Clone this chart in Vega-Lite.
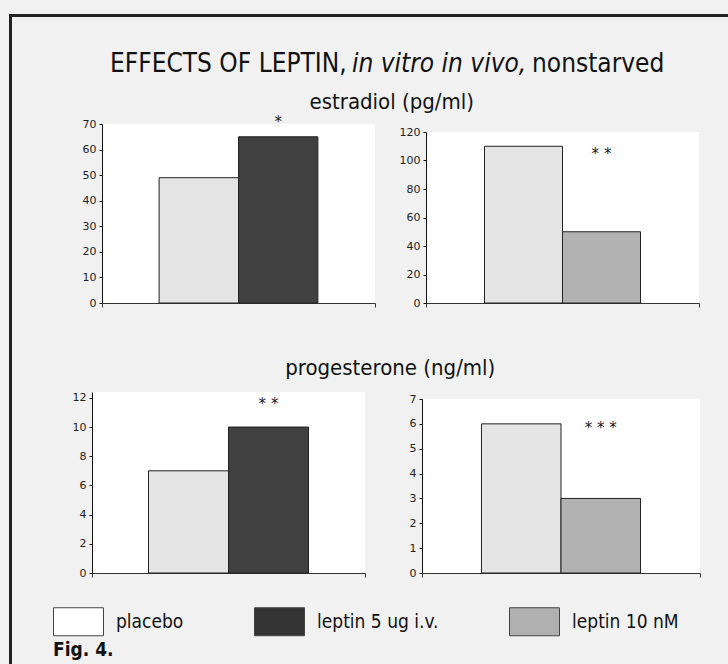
{
  "$schema": "https://vega.github.io/schema/vega-lite/v6.json",
  "background": "#f1f1f1",
  "padding": {"left": 9, "top": 14, "right": 0, "bottom": 0},
  "config": {
    "view": {"stroke": null},
    "font": "Liberation Sans Narrow, DejaVu Sans Condensed, sans-serif",
    "title": {"font": "Liberation Sans Narrow, DejaVu Sans Condensed, sans-serif", "fontWeight": "normal", "color": "#111"},
    "axisY": {"title": null, "grid": false, "tickSize": 3, "labelPadding": 3, "labelFont": "DejaVu Sans", "labelFontSize": 11, "labelColor": "#222", "domainColor": "#111", "tickColor": "#111", "domainWidth": 1, "tickWidth": 1, "labelOverlap": false},
    "axisX": {"title": null, "grid": false, "labels": false, "tickSize": 4, "domainColor": "#333", "tickColor": "#333", "domainWidth": 1.2}
  },
  "datasets": {
    "hormones": [
      {"hormone": "estradiol", "setting": "in vivo", "treatment": "placebo", "value": 49},
      {"hormone": "estradiol", "setting": "in vivo", "treatment": "leptin 5 ug i.v.", "value": 65},
      {"hormone": "estradiol", "setting": "in vitro", "treatment": "placebo", "value": 110},
      {"hormone": "estradiol", "setting": "in vitro", "treatment": "leptin 10 nM", "value": 50},
      {"hormone": "progesterone", "setting": "in vivo", "treatment": "placebo", "value": 7},
      {"hormone": "progesterone", "setting": "in vivo", "treatment": "leptin 5 ug i.v.", "value": 10},
      {"hormone": "progesterone", "setting": "in vitro", "treatment": "placebo", "value": 6},
      {"hormone": "progesterone", "setting": "in vitro", "treatment": "leptin 10 nM", "value": 3}
    ],
    "significance": [
      {"hormone": "estradiol", "setting": "in vivo", "treatment": "leptin 5 ug i.v.", "stars": "*", "value": 70.6},
      {"hormone": "estradiol", "setting": "in vitro", "treatment": "leptin 10 nM", "stars": "* *", "value": 104.4},
      {"hormone": "progesterone", "setting": "in vivo", "treatment": "leptin 5 ug i.v.", "stars": "* *", "value": 11.56},
      {"hormone": "progesterone", "setting": "in vitro", "treatment": "leptin 10 nM", "stars": "* * *", "value": 5.82}
    ],
    "legend": [{"item": "placebo"}, {"item": "leptin 5 ug i.v."}, {"item": "leptin 10 nM"}],
    "none": []
  },
  "spacing": 0,
  "resolve": {"scale": {"xOffset": "independent", "color": "independent"}, "legend": {"color": "independent"}},
  "hconcat": [
    {"data": {"name": "none"}, "mark": "point", "width": 3, "height": 650, "view": {"fill": "#222", "stroke": null}},
    {
      "spacing": 0,
      "resolve": {"scale": {"xOffset": "independent", "color": "independent"}, "legend": {"color": "independent"}},
      "vconcat": [
        {"data": {"name": "none"}, "mark": "point", "width": 716, "height": 3, "view": {"fill": "#222", "stroke": null}},
        {"data": {"name": "none"}, "mark": "point", "width": 1, "height": 34},
        {
          "spacing": 5,
          "hconcat": [
            {"data": {"name": "none"}, "mark": "point", "width": 93, "height": 1},
            {"data": {"name": "none"}, "mark": "point", "width": 1, "height": 1,
             "title": {"text": "EFFECTS OF LEPTIN,", "anchor": "start", "frame": "group", "fontSize": 26, "offset": 12}},
            {"data": {"name": "none"}, "mark": "point", "width": 1, "height": 1,
             "title": {"text": "in vitro in vivo,", "anchor": "start", "frame": "group", "fontSize": 26, "fontStyle": "italic", "offset": 12}},
            {"data": {"name": "none"}, "mark": "point", "width": 1, "height": 1,
             "title": {"text": "nonstarved", "anchor": "start", "frame": "group", "fontSize": 26, "offset": 12}}
          ]
        },
        {
          "title": {"text": "estradiol (pg/ml)", "fontSize": 22, "offset": 1.5, "anchor": "middle", "dx": 36},
          "spacing": 23,
          "resolve": {"scale": {"xOffset": "independent"}},
          "hconcat": [
            {"data": {"name": "none"}, "mark": "point", "width": 47, "height": 1},
            {
              "width": 273, "height": 179,
              "view": {"fill": "white", "stroke": null},
              "encoding": {
                "x": {"field": "setting", "type": "nominal", "scale": {"paddingInner": 0, "paddingOuter": 0}, "axis": {"tickBand": "extent", "labels": false, "title": null}},
                "xOffset": {"field": "treatment", "type": "nominal", "scale": {"domain": ["placebo", "leptin 5 ug i.v."], "paddingInner": 0, "paddingOuter": 0.72}},
                "y": {"field": "value", "type": "quantitative", "scale": {"domain": [0, 70], "nice": false}, "axis": {"values": [0, 10, 20, 30, 40, 50, 60, 70], "title": null}}
              },
              "layer": [
                {
                  "data": {"name": "hormones"},
                  "transform": [{"filter": "datum.hormone === 'estradiol' && datum.setting === 'in vivo'"}],
                  "mark": {"type": "bar", "stroke": "#222", "strokeWidth": 1},
                  "encoding": {
                    "fill": {"field": "treatment", "type": "nominal", "scale": {"domain": ["placebo", "leptin 5 ug i.v.", "leptin 10 nM"], "range": ["#e4e4e4", "#404040", "#b2b2b2"]}, "legend": null}
                  }
                },
                {
                  "data": {"name": "significance"},
                  "transform": [{"filter": "datum.hormone === 'estradiol' && datum.setting === 'in vivo'"}],
                  "mark": {"type": "text", "font": "DejaVu Sans", "fontSize": 15, "color": "#222"},
                  "encoding": {"text": {"field": "stars"}}
                }
              ]
            },
            {
              "spacing": 0,
              "resolve": {"scale": {"xOffset": "independent"}},
              "vconcat": [
                {"data": {"name": "none"}, "mark": "point", "width": 1, "height": 1.5},
                {
                  "width": 273, "height": 171,
                  "view": {"fill": "white", "stroke": null},
                  "encoding": {
                    "x": {"field": "setting", "type": "nominal", "scale": {"paddingInner": 0, "paddingOuter": 0}, "axis": {"tickBand": "extent", "labels": false, "title": null}},
                    "xOffset": {"field": "treatment", "type": "nominal", "scale": {"domain": ["placebo", "leptin 10 nM"], "paddingInner": 0, "paddingOuter": 0.75}},
                    "y": {"field": "value", "type": "quantitative", "scale": {"domain": [0, 120], "nice": false}, "axis": {"values": [0, 20, 40, 60, 80, 100, 120], "title": null}}
                  },
                  "layer": [
                    {
                      "data": {"name": "hormones"},
                      "transform": [{"filter": "datum.hormone === 'estradiol' && datum.setting === 'in vitro'"}],
                      "mark": {"type": "bar", "stroke": "#222", "strokeWidth": 1},
                      "encoding": {
                        "fill": {"field": "treatment", "type": "nominal", "scale": {"domain": ["placebo", "leptin 5 ug i.v.", "leptin 10 nM"], "range": ["#e4e4e4", "#404040", "#b2b2b2"]}, "legend": null}
                      }
                    },
                    {
                      "data": {"name": "significance"},
                      "transform": [{"filter": "datum.hormone === 'estradiol' && datum.setting === 'in vitro'"}],
                      "mark": {"type": "text", "font": "DejaVu Sans", "fontSize": 15, "color": "#222"},
                      "encoding": {"text": {"field": "stars"}}
                    }
                  ]
                }
              ]
            }
          ]
        },
        {"data": {"name": "none"}, "mark": "point", "width": 1, "height": 48},
        {
          "title": {"text": "progesterone (ng/ml)", "fontSize": 22, "offset": 12, "anchor": "middle", "dx": 34},
          "spacing": 43,
          "resolve": {"scale": {"xOffset": "independent"}},
          "hconcat": [
            {"data": {"name": "none"}, "mark": "point", "width": 17, "height": 1},
            {
              "width": 273, "height": 181,
              "view": {"fill": "white", "stroke": null},
              "encoding": {
                "x": {"field": "setting", "type": "nominal", "scale": {"paddingInner": 0, "paddingOuter": 0}, "axis": {"tickBand": "extent", "labels": false, "title": null}},
                "xOffset": {"field": "treatment", "type": "nominal", "scale": {"domain": ["placebo", "leptin 5 ug i.v."], "paddingInner": 0, "paddingOuter": 0.706}},
                "y": {"field": "value", "type": "quantitative", "scale": {"domain": [0, 12.4], "nice": false}, "axis": {"values": [0, 2, 4, 6, 8, 10, 12], "title": null}}
              },
              "layer": [
                {
                  "data": {"name": "hormones"},
                  "transform": [{"filter": "datum.hormone === 'progesterone' && datum.setting === 'in vivo'"}],
                  "mark": {"type": "bar", "stroke": "#222", "strokeWidth": 1},
                  "encoding": {
                    "fill": {"field": "treatment", "type": "nominal", "scale": {"domain": ["placebo", "leptin 5 ug i.v.", "leptin 10 nM"], "range": ["#e4e4e4", "#404040", "#b2b2b2"]}, "legend": null}
                  }
                },
                {
                  "data": {"name": "significance"},
                  "transform": [{"filter": "datum.hormone === 'progesterone' && datum.setting === 'in vivo'"}],
                  "mark": {"type": "text", "font": "DejaVu Sans", "fontSize": 15, "color": "#222"},
                  "encoding": {"text": {"field": "stars"}}
                }
              ]
            },
            {
              "spacing": 0,
              "resolve": {"scale": {"xOffset": "independent"}},
              "vconcat": [
                {"data": {"name": "none"}, "mark": "point", "width": 1, "height": 0.5},
                {
                  "width": 278, "height": 174,
                  "view": {"fill": "white", "stroke": null},
                  "encoding": {
                    "x": {"field": "setting", "type": "nominal", "scale": {"paddingInner": 0, "paddingOuter": 0}, "axis": {"tickBand": "extent", "labels": false, "title": null}},
                    "xOffset": {"field": "treatment", "type": "nominal", "scale": {"domain": ["placebo", "leptin 10 nM"], "paddingInner": 0, "paddingOuter": 0.748}},
                    "y": {"field": "value", "type": "quantitative", "scale": {"domain": [0, 7], "nice": false}, "axis": {"values": [0, 1, 2, 3, 4, 5, 6, 7], "title": null}}
                  },
                  "layer": [
                    {
                      "data": {"name": "hormones"},
                      "transform": [{"filter": "datum.hormone === 'progesterone' && datum.setting === 'in vitro'"}],
                      "mark": {"type": "bar", "stroke": "#222", "strokeWidth": 1},
                      "encoding": {
                        "fill": {"field": "treatment", "type": "nominal", "scale": {"domain": ["placebo", "leptin 5 ug i.v.", "leptin 10 nM"], "range": ["#e4e4e4", "#404040", "#b2b2b2"]}, "legend": null}
                      }
                    },
                    {
                      "data": {"name": "significance"},
                      "transform": [{"filter": "datum.hormone === 'progesterone' && datum.setting === 'in vitro'"}],
                      "mark": {"type": "text", "font": "DejaVu Sans", "fontSize": 15, "color": "#222"},
                      "encoding": {"text": {"field": "stars"}}
                    }
                  ]
                }
              ]
            }
          ]
        },
        {"data": {"name": "none"}, "mark": "point", "width": 1, "height": 18},
        {
          "data": {"name": "legend"},
          "width": 716, "height": 45,
          "mark": {"type": "square", "filled": true, "opacity": 0, "stroke": "#444", "strokeWidth": 1},
          "encoding": {
            "color": {
              "field": "item", "type": "nominal", "sort": null,
              "scale": {"domain": ["placebo", "leptin 5 ug i.v.", "leptin 10 nM"], "range": ["#ffffff", "#333333", "#b0b0b0"]},
              "legend": {
                "orient": "none", "legendX": 41, "legendY": 0, "direction": "horizontal", "columns": 3,
                "title": null, "padding": 0,
                "symbolType": "M-1,-0.56H1V0.56H-1Z", "symbolSize": 2500, "symbolOpacity": 1,
                "symbolStrokeColor": "#444", "symbolStrokeWidth": 1,
                "labelFont": "Liberation Sans Narrow, DejaVu Sans Condensed, sans-serif", "labelFontSize": 19, "labelColor": "#111",
                "labelOffset": 12, "columnPadding": 68, "labelLimit": 300
              }
            }
          },
          "title": {"text": "Fig. 4.", "orient": "bottom", "anchor": "start", "frame": "group", "fontSize": 19, "fontWeight": "bold", "offset": 0, "dx": 41, "color": "#111"}
        }
      ]
    }
  ]
}
